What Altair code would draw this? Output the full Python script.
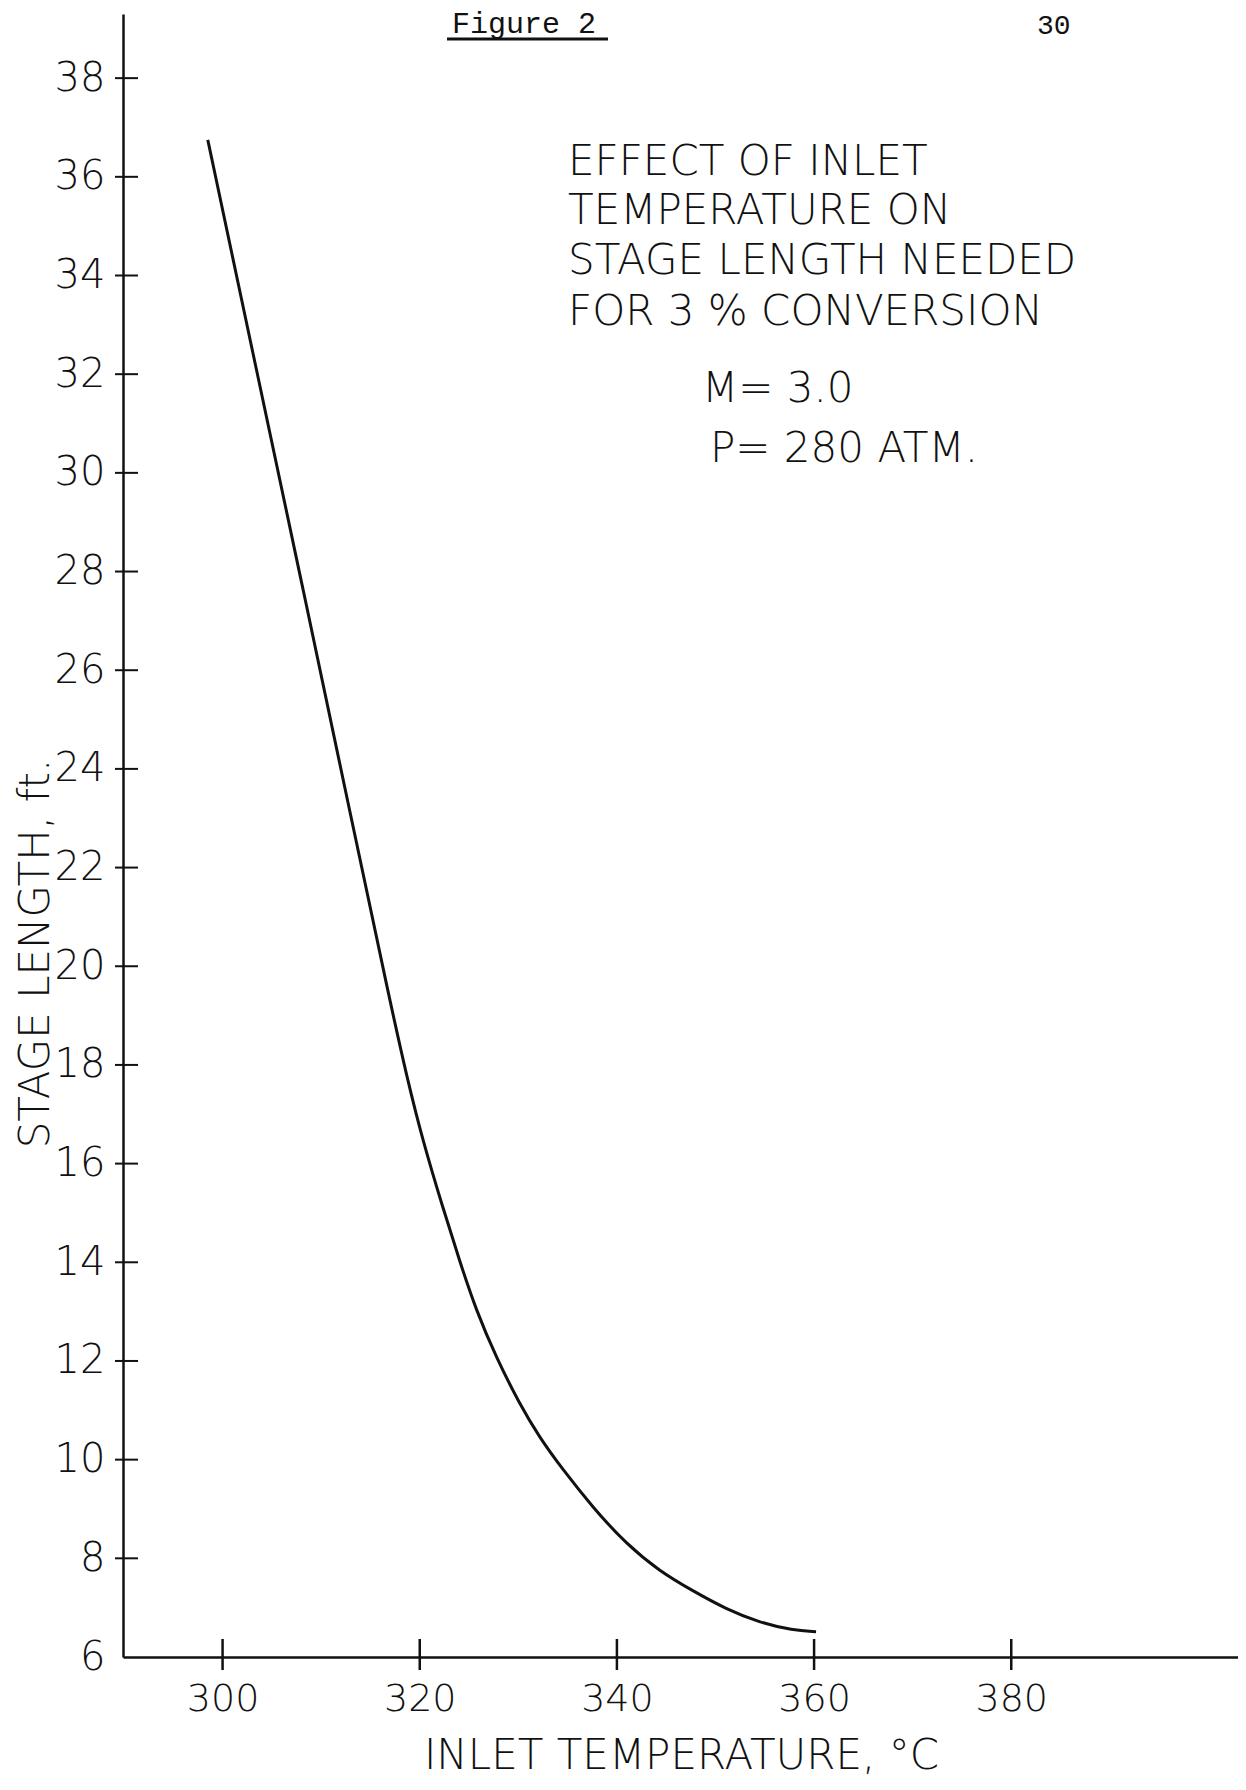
import altair as alt
import pandas as pd

# ---- data ----
temps = [298.5, 303.0, 308.0, 313.0, 317.0, 318.7, 320.3, 322.34, 324.04,
         325.73, 327.76, 330.12, 332.15, 334.35, 337.56, 340.94, 344.32, 347.70,
         351.08, 354.46, 357.84, 360.2]
lengths = [36.75, 32.5, 27.8, 23.05, 19.27, 17.75, 16.47, 15.11, 14.03,
           13.02, 12.07, 11.13, 10.45, 9.84, 9.03, 8.29, 7.74, 7.34,
           6.97, 6.70, 6.54, 6.51]
x_ticks = [300, 320, 340, 360, 380]
y_labels = [6, 8, 10, 12, 14, 16, 18, 20, 22, 24, 26, 28, 30, 32, 34, 36, 38]
y_ticks = [8, 10, 12, 14, 16, 18, 20, 22, 24, 26, 28, 30, 32, 34, 36, 38]
note_lines = ["EFFECT OF INLET", "TEMPERATURE ON", "STAGE LENGTH NEEDED",
              "FOR 3 % CONVERSION"]
param_lines = ["M= 3.0", "P= 280 ATM."]
fig_label = "Figure 2"
page_no = "30"
x_title = "INLET TEMPERATURE, °C"
y_title = "STAGE LENGTH, ft."

W, H = 1115, 1643
INK = "#111111"
HAND = "DejaVu Sans"
TYPE = "Liberation Mono"
HW = 200  # thin, pen-like strokes

xs = alt.Scale(domain=[289.9, 403.0], nice=False, zero=False)
ys = alt.Scale(domain=[6, 39.3], nice=False, zero=False)

x_axis = alt.Axis(
    values=x_ticks, format="d", ticks=False, grid=False,
    domainColor=INK, domainWidth=2.5,
    labelFont=HAND, labelFontSize=38, labelFontWeight=HW, labelColor=INK,
    labelPadding=23,
    title=x_title, titleFont=HAND, titleFontSize=42, titleFontWeight=HW,
    titleColor=INK, titleX=558, titleY=111, titleAlign="center",
    titleBaseline="alphabetic")
y_axis = alt.Axis(
    values=y_labels, format="d", ticks=False, grid=False,
    domainColor=INK, domainWidth=2.5,
    labelFont=HAND, labelFontSize=40, labelFontWeight=HW, labelColor=INK,
    labelPadding=18, labelBaseline="middle",
    title=y_title, titleFont=HAND, titleFontSize=42, titleFontWeight=HW,
    titleColor=INK, titleAngle=270, titleX=-88, titleY=939,
    titleAlign="center", titleBaseline="middle")

curve_df = pd.DataFrame({"t": temps, "L": lengths})

line = alt.Chart(curve_df).mark_line(
    interpolate="basis", strokeWidth=3, color=INK
).encode(
    x=alt.X("t:Q", scale=xs, axis=x_axis),
    y=alt.Y("L:Q", scale=ys, axis=y_axis),
)

ytick_layer = alt.Chart(pd.DataFrame({"L": y_ticks})).mark_rule(
    color=INK, strokeWidth=2
).encode(
    y=alt.Y("L:Q", scale=ys, axis=y_axis),
    x=alt.value(-8), x2=alt.value(15),
)

xtick_layer = alt.Chart(pd.DataFrame({"t": x_ticks})).mark_rule(
    color=INK, strokeWidth=2.5
).encode(
    x=alt.X("t:Q", scale=xs, axis=x_axis),
    y=alt.value(H - 18), y2=alt.value(H + 13),
)

one = alt.Data(values=[{}])

def txt(s, x, y, size, font=HAND, weight=HW, align="left"):
    return alt.Chart(one).mark_text(
        text=s, font=font, fontSize=size, fontWeight=weight, color=INK,
        align=align, baseline="alphabetic"
    ).encode(x=alt.value(x), y=alt.value(y))

layers = [line, ytick_layer, xtick_layer]
note_y = [161, 210, 260, 311]
for s, yy in zip(note_lines, note_y):
    layers.append(txt(s, 445, yy, 42))
layers.append(txt(param_lines[0], 579, 388, 42))
layers.append(txt(param_lines[1], 587, 448, 42))
layers.append(txt(fig_label, 329, 19, 30, font=TYPE, weight="normal"))
layers.append(txt(page_no, 914, 20, 28, font=TYPE, weight="normal"))
underline = alt.Chart(one).mark_rule(color=INK, strokeWidth=3).encode(
    x=alt.value(324), x2=alt.value(485), y=alt.value(25)
)
layers.append(underline)

chart = alt.layer(*layers).properties(
    width=W, height=H,
    padding={"left": 115, "top": 6, "right": 0, "bottom": 125},
    autosize=alt.AutoSizeParams(type="none"),
    background="white",
).configure_view(strokeWidth=0)

chart.save("out.html", embed_options={"renderer": "svg", "actions": False})
